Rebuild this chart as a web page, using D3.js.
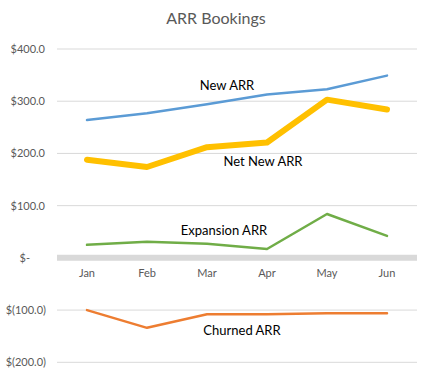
<!DOCTYPE html>
<html>
<head>
<meta charset="utf-8">
<script src="https://cdn.jsdelivr.net/npm/d3@7"></script>
<style>
  body { margin: 0; background: #fff; }
  text { font-family: Lato, "Open Sans", sans-serif; }
</style>
</head>
<body>
<div id="chart"></div>
<script>
// chart data
let months = ["Jan", "Feb", "Mar", "Apr", "May", "Jun"];
let newArr = [264, 277, 294, 313, 323, 349];
let netNewArr = [188, 174, 212, 221, 303, 284];
let expansionArr = [25, 31, 27, 17, 84, 42];
let churnedArr = [-100, -134, -108, -108, -106, -106];
let yTicks = [-200, -100, 0, 100, 200, 300, 400];

let series = [
    {name: "New ARR", values: newArr, color: "#5b9bd5", width: 2.5, label: [227, 90]},
    {name: "Net New ARR", values: netNewArr, color: "#ffc000", width: 6, label: [263, 166]},
    {name: "Expansion ARR", values: expansionArr, color: "#70ad47", width: 2.5, label: [224, 235]},
    {name: "Churned ARR", values: churnedArr, color: "#ed7d31", width: 2.5, label: [242, 335]}
];

let margin = {top: 49, right: 16, bottom: 16, left: 57};
let width = 433 - margin.left - margin.right;
let height = 362.3 - margin.top;

let svg = d3.select("#chart").append("svg")
    .attr("width", 433)
    .attr("height", 378);

// title
svg.append("text")
    .attr("x", 216)
    .attr("y", 24)
    .attr("text-anchor", "middle")
    .attr("fill", "#595959")
    .style("font-size", "16px")
    .text("ARR Bookings");

let g = svg.append("g")
    .attr("transform", "translate(" + margin.left + "," + margin.top + ")");

let x = d3.scaleBand()
    .domain(months)
    .range([0, width]);

let y = d3.scaleLinear()
    .domain([-200, 400])
    .range([height, 0]);

// gridlines
g.append("g")
    .selectAll("line")
    .data(yTicks.filter(d => d !== 0))
    .enter().append("line")
    .attr("x1", 0)
    .attr("x2", width)
    .attr("y1", d => y(d))
    .attr("y2", d => y(d))
    .attr("stroke", "#d9d9d9")
    .attr("stroke-width", 1);

// y axis labels
let fmt = d => {
    if (d === 0) return "$-";
    if (d < 0) return "$(" + d3.format(".1f")(-d) + ")";
    return "$" + d3.format(".1f")(d);
};
g.append("g")
    .selectAll("text")
    .data(yTicks)
    .enter().append("text")
    .attr("x", d => d === 0 ? -27 : (d < 0 ? -11 : -12))
    .attr("y", d => y(d))
    .attr("dy", "0.35em")
    .attr("text-anchor", "end")
    .attr("fill", "#595959")
    .style("font-size", "11px")
    .text(fmt);

// zero axis band
g.append("line")
    .attr("x1", 0)
    .attr("x2", width)
    .attr("y1", y(0))
    .attr("y2", y(0))
    .attr("stroke", "#d9d9d9")
    .attr("stroke-width", 6);

// x axis labels
g.append("g")
    .selectAll("text")
    .data(months)
    .enter().append("text")
    .attr("x", d => x(d) + x.bandwidth() / 2)
    .attr("y", y(0) + 19)
    .attr("text-anchor", "middle")
    .attr("fill", "#595959")
    .style("font-size", "11px")
    .text(d => d);

// lines
let line = d3.line()
    .x((d, i) => x(months[i]) + x.bandwidth() / 2)
    .y(d => y(d));

series.forEach(s => {
    g.append("path")
        .datum(s.values)
        .attr("fill", "none")
        .attr("stroke", s.color)
        .attr("stroke-width", s.width)
        .attr("stroke-linejoin", "round")
        .attr("stroke-linecap", "round")
        .attr("d", line);
});

// series labels
series.forEach(s => {
    svg.append("text")
        .attr("x", s.label[0])
        .attr("y", s.label[1])
        .attr("text-anchor", "middle")
        .attr("fill", "#000")
        .style("font-size", "13px")
        .text(s.name);
});
</script>
</body>
</html>
